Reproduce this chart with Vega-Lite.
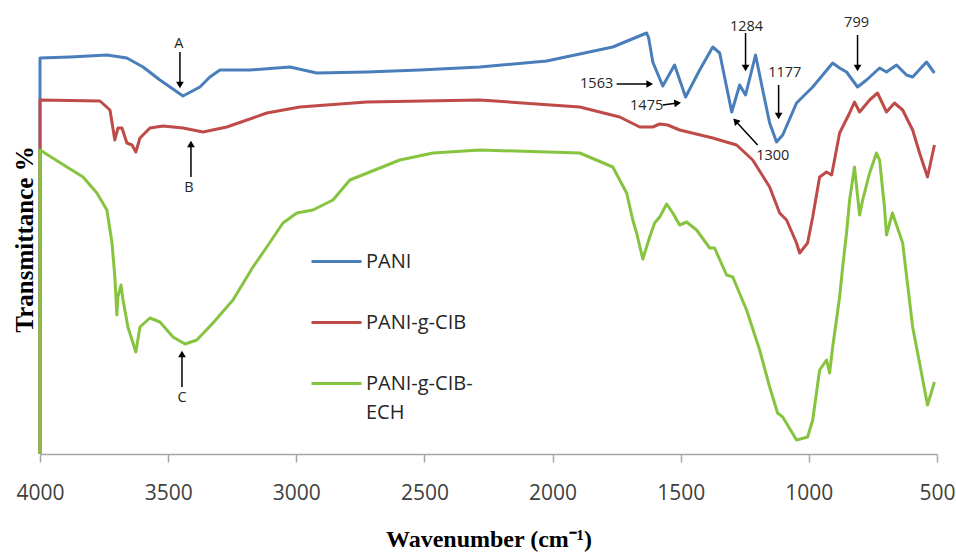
{
  "$schema": "https://vega.github.io/schema/vega-lite/v6.json",
  "width": 897,
  "height": 444,
  "autosize": {"type": "none"},
  "padding": {"left": 40, "top": 10, "right": 19, "bottom": 98},
  "background": "white",
  "config": {"view": {"stroke": null}, "style": {"guide-label": {"lineHeight": 29}}},
  "datasets": {
    "spectra": [
      {"s": "PANI", "w": 4000, "t": 0}, {"s": "PANI", "w": 4000, "t": 396}, {"s": "PANI", "w": 3883, "t": 397}, {"s": "PANI", "w": 3739, "t": 399}, {"s": "PANI", "w": 3661, "t": 396}, {"s": "PANI", "w": 3598, "t": 387}, {"s": "PANI", "w": 3532, "t": 374}, {"s": "PANI", "w": 3442, "t": 358}, {"s": "PANI", "w": 3376, "t": 367}, {"s": "PANI", "w": 3337, "t": 377}, {"s": "PANI", "w": 3298, "t": 384}, {"s": "PANI", "w": 3181, "t": 384}, {"s": "PANI", "w": 3025, "t": 387}, {"s": "PANI", "w": 2920, "t": 381}, {"s": "PANI", "w": 2725, "t": 382}, {"s": "PANI", "w": 2518, "t": 384}, {"s": "PANI", "w": 2284, "t": 387}, {"s": "PANI", "w": 2023, "t": 393}, {"s": "PANI", "w": 1765, "t": 407}, {"s": "PANI", "w": 1633, "t": 421}, {"s": "PANI", "w": 1625, "t": 416}, {"s": "PANI", "w": 1609, "t": 392}, {"s": "PANI", "w": 1570, "t": 368}, {"s": "PANI", "w": 1524, "t": 389}, {"s": "PANI", "w": 1481, "t": 357}, {"s": "PANI", "w": 1426, "t": 384}, {"s": "PANI", "w": 1375, "t": 407}, {"s": "PANI", "w": 1348, "t": 401}, {"s": "PANI", "w": 1301, "t": 342}, {"s": "PANI", "w": 1270, "t": 369}, {"s": "PANI", "w": 1247, "t": 359}, {"s": "PANI", "w": 1208, "t": 399}, {"s": "PANI", "w": 1180, "t": 364}, {"s": "PANI", "w": 1153, "t": 331}, {"s": "PANI", "w": 1126, "t": 312}, {"s": "PANI", "w": 1102, "t": 319}, {"s": "PANI", "w": 1048, "t": 351}, {"s": "PANI", "w": 985, "t": 367}, {"s": "PANI", "w": 907, "t": 391}, {"s": "PANI", "w": 880, "t": 386}, {"s": "PANI", "w": 853, "t": 382}, {"s": "PANI", "w": 810, "t": 367}, {"s": "PANI", "w": 775, "t": 374}, {"s": "PANI", "w": 724, "t": 386}, {"s": "PANI", "w": 697, "t": 382}, {"s": "PANI", "w": 658, "t": 389}, {"s": "PANI", "w": 619, "t": 379}, {"s": "PANI", "w": 595, "t": 377}, {"s": "PANI", "w": 541, "t": 392}, {"s": "PANI", "w": 510, "t": 381},

      {"s": "PANI-g-CIB", "w": 4000, "t": 0}, {"s": "PANI-g-CIB", "w": 4000, "t": 354}, {"s": "PANI-g-CIB", "w": 3766, "t": 353}, {"s": "PANI-g-CIB", "w": 3727, "t": 344}, {"s": "PANI-g-CIB", "w": 3708, "t": 314}, {"s": "PANI-g-CIB", "w": 3696, "t": 326}, {"s": "PANI-g-CIB", "w": 3680, "t": 326}, {"s": "PANI-g-CIB", "w": 3661, "t": 311}, {"s": "PANI-g-CIB", "w": 3641, "t": 309}, {"s": "PANI-g-CIB", "w": 3626, "t": 302}, {"s": "PANI-g-CIB", "w": 3610, "t": 316}, {"s": "PANI-g-CIB", "w": 3571, "t": 326}, {"s": "PANI-g-CIB", "w": 3520, "t": 328}, {"s": "PANI-g-CIB", "w": 3442, "t": 326}, {"s": "PANI-g-CIB", "w": 3364, "t": 322}, {"s": "PANI-g-CIB", "w": 3271, "t": 327}, {"s": "PANI-g-CIB", "w": 3115, "t": 341}, {"s": "PANI-g-CIB", "w": 2986, "t": 347}, {"s": "PANI-g-CIB", "w": 2725, "t": 352}, {"s": "PANI-g-CIB", "w": 2284, "t": 354}, {"s": "PANI-g-CIB", "w": 1894, "t": 347}, {"s": "PANI-g-CIB", "w": 1738, "t": 337}, {"s": "PANI-g-CIB", "w": 1660, "t": 327}, {"s": "PANI-g-CIB", "w": 1609, "t": 327}, {"s": "PANI-g-CIB", "w": 1582, "t": 330}, {"s": "PANI-g-CIB", "w": 1551, "t": 329}, {"s": "PANI-g-CIB", "w": 1504, "t": 324}, {"s": "PANI-g-CIB", "w": 1375, "t": 316}, {"s": "PANI-g-CIB", "w": 1282, "t": 309}, {"s": "PANI-g-CIB", "w": 1219, "t": 294}, {"s": "PANI-g-CIB", "w": 1153, "t": 267}, {"s": "PANI-g-CIB", "w": 1114, "t": 241}, {"s": "PANI-g-CIB", "w": 1087, "t": 234}, {"s": "PANI-g-CIB", "w": 1048, "t": 211}, {"s": "PANI-g-CIB", "w": 1036, "t": 201}, {"s": "PANI-g-CIB", "w": 1005, "t": 211}, {"s": "PANI-g-CIB", "w": 985, "t": 237}, {"s": "PANI-g-CIB", "w": 958, "t": 277}, {"s": "PANI-g-CIB", "w": 931, "t": 282}, {"s": "PANI-g-CIB", "w": 911, "t": 279}, {"s": "PANI-g-CIB", "w": 880, "t": 321}, {"s": "PANI-g-CIB", "w": 841, "t": 341}, {"s": "PANI-g-CIB", "w": 822, "t": 352}, {"s": "PANI-g-CIB", "w": 802, "t": 342}, {"s": "PANI-g-CIB", "w": 763, "t": 354}, {"s": "PANI-g-CIB", "w": 732, "t": 361}, {"s": "PANI-g-CIB", "w": 697, "t": 342}, {"s": "PANI-g-CIB", "w": 666, "t": 351}, {"s": "PANI-g-CIB", "w": 634, "t": 344}, {"s": "PANI-g-CIB", "w": 595, "t": 324}, {"s": "PANI-g-CIB", "w": 568, "t": 301}, {"s": "PANI-g-CIB", "w": 537, "t": 277}, {"s": "PANI-g-CIB", "w": 510, "t": 309},

      {"s": "PANI-g-CIB-ECH", "w": 4000, "t": 0}, {"s": "PANI-g-CIB-ECH", "w": 4000, "t": 304}, {"s": "PANI-g-CIB-ECH", "w": 3895, "t": 287}, {"s": "PANI-g-CIB-ECH", "w": 3832, "t": 277}, {"s": "PANI-g-CIB-ECH", "w": 3778, "t": 261}, {"s": "PANI-g-CIB-ECH", "w": 3739, "t": 244}, {"s": "PANI-g-CIB-ECH", "w": 3719, "t": 211}, {"s": "PANI-g-CIB-ECH", "w": 3708, "t": 177}, {"s": "PANI-g-CIB-ECH", "w": 3700, "t": 139}, {"s": "PANI-g-CIB-ECH", "w": 3696, "t": 157}, {"s": "PANI-g-CIB-ECH", "w": 3684, "t": 169}, {"s": "PANI-g-CIB-ECH", "w": 3676, "t": 154}, {"s": "PANI-g-CIB-ECH", "w": 3657, "t": 127}, {"s": "PANI-g-CIB-ECH", "w": 3626, "t": 102}, {"s": "PANI-g-CIB-ECH", "w": 3610, "t": 127}, {"s": "PANI-g-CIB-ECH", "w": 3571, "t": 136}, {"s": "PANI-g-CIB-ECH", "w": 3532, "t": 132}, {"s": "PANI-g-CIB-ECH", "w": 3481, "t": 117}, {"s": "PANI-g-CIB-ECH", "w": 3434, "t": 110}, {"s": "PANI-g-CIB-ECH", "w": 3388, "t": 114}, {"s": "PANI-g-CIB-ECH", "w": 3325, "t": 131}, {"s": "PANI-g-CIB-ECH", "w": 3247, "t": 154}, {"s": "PANI-g-CIB-ECH", "w": 3169, "t": 187}, {"s": "PANI-g-CIB-ECH", "w": 3115, "t": 207}, {"s": "PANI-g-CIB-ECH", "w": 3052, "t": 231}, {"s": "PANI-g-CIB-ECH", "w": 2998, "t": 241}, {"s": "PANI-g-CIB-ECH", "w": 2935, "t": 244}, {"s": "PANI-g-CIB-ECH", "w": 2857, "t": 254}, {"s": "PANI-g-CIB-ECH", "w": 2791, "t": 274}, {"s": "PANI-g-CIB-ECH", "w": 2596, "t": 294}, {"s": "PANI-g-CIB-ECH", "w": 2467, "t": 301}, {"s": "PANI-g-CIB-ECH", "w": 2284, "t": 304}, {"s": "PANI-g-CIB-ECH", "w": 1894, "t": 301}, {"s": "PANI-g-CIB-ECH", "w": 1765, "t": 287}, {"s": "PANI-g-CIB-ECH", "w": 1711, "t": 261}, {"s": "PANI-g-CIB-ECH", "w": 1687, "t": 234}, {"s": "PANI-g-CIB-ECH", "w": 1672, "t": 221}, {"s": "PANI-g-CIB-ECH", "w": 1648, "t": 195}, {"s": "PANI-g-CIB-ECH", "w": 1621, "t": 217}, {"s": "PANI-g-CIB-ECH", "w": 1602, "t": 231}, {"s": "PANI-g-CIB-ECH", "w": 1582, "t": 237}, {"s": "PANI-g-CIB-ECH", "w": 1555, "t": 250}, {"s": "PANI-g-CIB-ECH", "w": 1531, "t": 241}, {"s": "PANI-g-CIB-ECH", "w": 1504, "t": 229}, {"s": "PANI-g-CIB-ECH", "w": 1477, "t": 232}, {"s": "PANI-g-CIB-ECH", "w": 1438, "t": 224}, {"s": "PANI-g-CIB-ECH", "w": 1387, "t": 206}, {"s": "PANI-g-CIB-ECH", "w": 1368, "t": 206}, {"s": "PANI-g-CIB-ECH", "w": 1321, "t": 179}, {"s": "PANI-g-CIB-ECH", "w": 1297, "t": 177}, {"s": "PANI-g-CIB-ECH", "w": 1243, "t": 144}, {"s": "PANI-g-CIB-ECH", "w": 1192, "t": 104}, {"s": "PANI-g-CIB-ECH", "w": 1153, "t": 67}, {"s": "PANI-g-CIB-ECH", "w": 1122, "t": 41}, {"s": "PANI-g-CIB-ECH", "w": 1102, "t": 37}, {"s": "PANI-g-CIB-ECH", "w": 1048, "t": 14}, {"s": "PANI-g-CIB-ECH", "w": 1005, "t": 17}, {"s": "PANI-g-CIB-ECH", "w": 985, "t": 34}, {"s": "PANI-g-CIB-ECH", "w": 958, "t": 84}, {"s": "PANI-g-CIB-ECH", "w": 931, "t": 94}, {"s": "PANI-g-CIB-ECH", "w": 919, "t": 81}, {"s": "PANI-g-CIB-ECH", "w": 907, "t": 107}, {"s": "PANI-g-CIB-ECH", "w": 880, "t": 157}, {"s": "PANI-g-CIB-ECH", "w": 868, "t": 187}, {"s": "PANI-g-CIB-ECH", "w": 853, "t": 221}, {"s": "PANI-g-CIB-ECH", "w": 841, "t": 254}, {"s": "PANI-g-CIB-ECH", "w": 822, "t": 287}, {"s": "PANI-g-CIB-ECH", "w": 802, "t": 239}, {"s": "PANI-g-CIB-ECH", "w": 790, "t": 254}, {"s": "PANI-g-CIB-ECH", "w": 763, "t": 281}, {"s": "PANI-g-CIB-ECH", "w": 736, "t": 301}, {"s": "PANI-g-CIB-ECH", "w": 724, "t": 294}, {"s": "PANI-g-CIB-ECH", "w": 705, "t": 247}, {"s": "PANI-g-CIB-ECH", "w": 697, "t": 219}, {"s": "PANI-g-CIB-ECH", "w": 674, "t": 241}, {"s": "PANI-g-CIB-ECH", "w": 634, "t": 211}, {"s": "PANI-g-CIB-ECH", "w": 595, "t": 127}, {"s": "PANI-g-CIB-ECH", "w": 568, "t": 91}, {"s": "PANI-g-CIB-ECH", "w": 537, "t": 49}, {"s": "PANI-g-CIB-ECH", "w": 510, "t": 72}
    ],
    "labels": [
      {"lab": "A", "w": 3458, "t": 410},
      {"lab": "B", "w": 3419, "t": 266},
      {"lab": "C", "w": 3446, "t": 56},
      {"lab": "1563", "w": 1828, "t": 370},
      {"lab": "1475", "w": 1633, "t": 348},
      {"lab": "1284", "w": 1243, "t": 427},
      {"lab": "1300", "w": 1141, "t": 298},
      {"lab": "1177", "w": 1094, "t": 381},
      {"lab": "799", "w": 814, "t": 431}
    ],
    "arrows": [
      {"w": 3454, "t": 402, "w2": 3454, "t2": 369},
      {"w": 3411, "t": 277, "w2": 3411, "t2": 310},
      {"w": 3446, "t": 67, "w2": 3446, "t2": 100},
      {"w": 1750, "t": 370, "w2": 1621, "t2": 370},
      {"w": 1570, "t": 349, "w2": 1512, "t2": 351},
      {"w": 1200, "t": 309, "w2": 1286, "t2": 333},
      {"w": 1247, "t": 421, "w2": 1247, "t2": 386},
      {"w": 1118, "t": 369, "w2": 1118, "t2": 338},
      {"w": 810, "t": 419, "w2": 810, "t2": 386}
    ],
    "heads": [
      {"w": 3454, "t": 369, "ang": 180},
      {"w": 3411, "t": 310, "ang": 0},
      {"w": 3446, "t": 100, "ang": 0},
      {"w": 1621, "t": 370, "ang": 90},
      {"w": 1512, "t": 351, "ang": 84},
      {"w": 1286, "t": 333, "ang": 317},
      {"w": 1247, "t": 386, "ang": 180},
      {"w": 1118, "t": 338, "ang": 180},
      {"w": 810, "t": 386, "ang": 180}
    ]
  },
  "layer": [
    {
      "data": {"name": "spectra"},
      "mark": {"type": "line", "strokeWidth": 3, "strokeJoin": "round", "clip": false},
      "encoding": {
        "x": {
          "field": "w", "type": "quantitative",
          "scale": {"domain": [500, 4000], "reverse": true, "nice": false, "zero": false},
          "axis": {
            "title": "Wavenumber (cm⁻¹)",
            "values": [4000, 3500, 3000, 2500, 2000, 1500, 1000, 500],
            "format": "d",
            "grid": false,
            "domainColor": "#a6a6a6", "domainWidth": 1.5,
            "tickColor": "#a6a6a6", "tickWidth": 1.5, "tickSize": 8,
            "labelFont": "Open Sans", "labelFontSize": 21, "labelColor": "#404040",
            "labelPadding": 20, "labelFlush": false,
            "titleFont": "Liberation Serif", "titleFontWeight": "bold", "titleFontSize": 24, "titleColor": "#000000",
            "titleY": 85, "titleBaseline": "middle"
          }
        },
        "y": {
          "field": "t", "type": "quantitative",
          "scale": {"domain": [0, 444], "nice": false},
          "axis": {
            "title": "Transmittance %",
            "domain": false, "ticks": false, "labels": false, "grid": false,
            "titleFont": "Liberation Serif", "titleFontWeight": "bold", "titleFontSize": 25, "titleColor": "#000000",
            "titleX": -16, "titleY": 229, "titleAngle": -90, "titleAlign": "center", "titleBaseline": "middle"
          }
        },
        "color": {
          "field": "s", "type": "nominal",
          "scale": {"domain": ["PANI", "PANI-g-CIB", "PANI-g-CIB-ECH"], "range": ["#4a7ebb", "#be4b48", "#86c440"]},
          "legend": {
            "orient": "none", "legendX": 270, "legendY": 225, "title": null,
            "symbolType": "stroke", "symbolSize": 2500, "symbolStrokeWidth": 3,
            "labelFont": "Open Sans", "labelFontSize": 20, "labelColor": "#262626",
            "labelOffset": 3, "labelLimit": 300, "rowPadding": 24,
            "labelExpr": "datum.label == 'PANI-g-CIB-ECH' ? ['PANI-g-CIB-', 'ECH'] : datum.label"
          }
        },
        "order": {"value": null}
      }
    },
    {
      "data": {"name": "arrows"},
      "mark": {"type": "rule", "color": "#000000", "strokeWidth": 1.5},
      "encoding": {
        "x": {"field": "w", "type": "quantitative"},
        "y": {"field": "t", "type": "quantitative"},
        "x2": {"field": "w2"},
        "y2": {"field": "t2"}
      }
    },
    {
      "data": {"name": "heads"},
      "mark": {"type": "point", "shape": "triangle-up", "filled": true, "color": "#000000", "size": 60, "opacity": 1},
      "encoding": {
        "x": {"field": "w", "type": "quantitative"},
        "y": {"field": "t", "type": "quantitative"},
        "angle": {"field": "ang", "type": "quantitative", "scale": null}
      }
    },
    {
      "data": {"name": "labels"},
      "mark": {"type": "text", "font": "Open Sans", "fontSize": 14.5, "color": "#262626", "align": "center", "baseline": "middle"},
      "encoding": {
        "x": {"field": "w", "type": "quantitative"},
        "y": {"field": "t", "type": "quantitative"},
        "text": {"field": "lab", "type": "nominal"}
      }
    }
  ]
}
